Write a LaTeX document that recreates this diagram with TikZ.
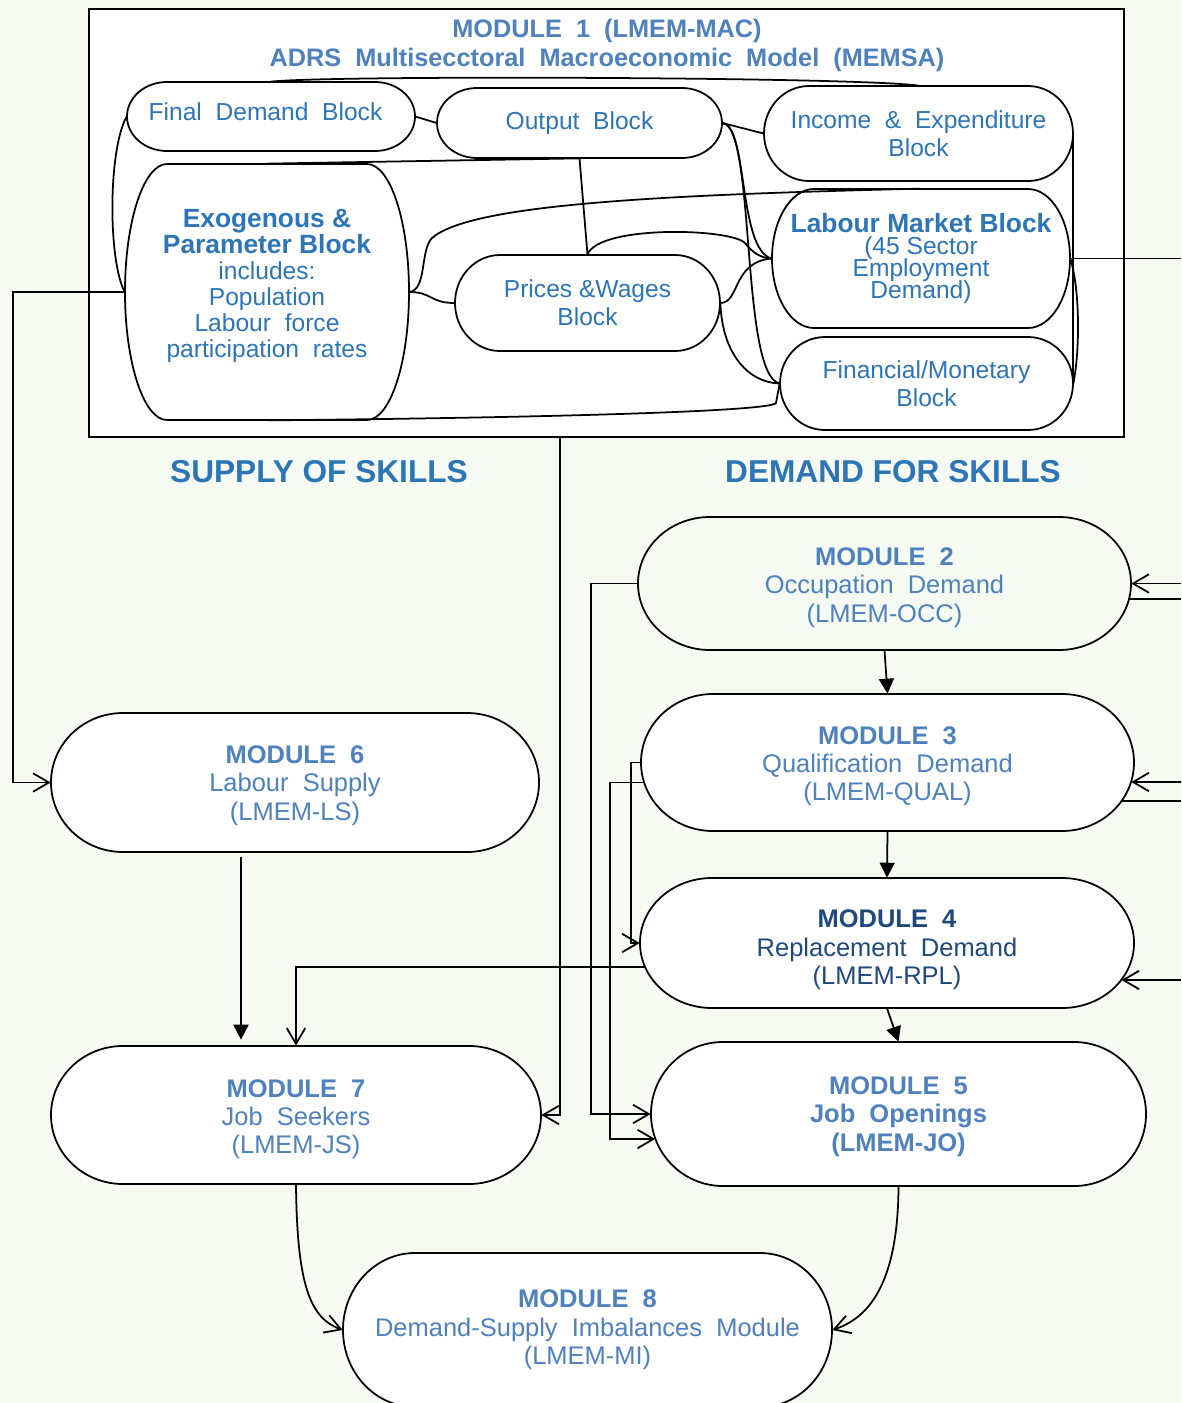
\documentclass[tikz,border=0pt]{standalone}
\usepackage{fontspec}
\setmainfont{Liberation Sans}
\usetikzlibrary{arrows.meta,calc}

\definecolor{paper}{RGB}{245,250,242}
\definecolor{modblue}{RGB}{79,129,189}
\definecolor{blkblue}{RGB}{46,117,182}
\definecolor{navy}{RGB}{31,73,125}

\pgfdeclarelayer{back}
\pgfsetlayers{back,main}

% lines in the text blocks keep their set spacing, even when tight
\lineskiplimit=-20pt

% invisible strut that lowers a text block by raising its first line
\newcommand\topgap[1]{\rule{0pt}{#1}}

\tikzset{
  shapeline/.style={draw=black, line width=1pt},
  wire/.style={draw=black, line width=1pt},
  openarr/.style={wire, -{Straight Barb[length=9pt,width=10.5pt]}},
  solidarr/.style={wire, -{Triangle[length=8.5pt,width=8.5pt]}},
  blocktext/.style={inner sep=0pt, align=center, text=blkblue, font=\fontsize{14}{15.9}\selectfont},
  modtext/.style={inner sep=0pt, align=center, text=modblue, font=\fontsize{14.5}{16.2}\selectfont},
  heading/.style={inner sep=0pt, text=blkblue, font=\fontsize{18}{20}\selectfont\bfseries},
}

% capsule outline (flat top/bottom, elliptical ends) plus its named node
% #1 name, #2 cx, #3 cy, #4 width, #5 height, #6 end width, #7 fill, #8 node style, #9 text
\newcommand\capsule[9]{%
  \begin{pgfonlayer}{back}
    \path[shapeline, fill=#7] (#2-#4/2+#6,#3-#5/2) -- (#2+#4/2-#6,#3-#5/2)
      arc[start angle=-90, end angle=90, x radius=#6, y radius=#5/2]
      -- (#2-#4/2+#6,#3+#5/2)
      arc[start angle=90, end angle=270, x radius=#6, y radius=#5/2] -- cycle;
  \end{pgfonlayer}
  \node[#8, minimum width=#4*0.02cm, minimum height=#5*0.02cm] (#1) at (#2,#3) {#9};
}

\begin{document}
\begin{tikzpicture}[x=0.02cm, y=-0.02cm]
\begin{pgfonlayer}{back}
  \fill[paper] (0,0) rectangle (1181,1403);
  \node[shapeline, fill=white, inner sep=0pt, minimum width=1035*0.02cm, minimum height=428*0.02cm] (m1) at (606.5,223) {};
\end{pgfonlayer}
\useasboundingbox (0,0) rectangle (1181,1403);

% ---- Module 1: macroeconomic model ----
\node[inner sep=0pt, align=center, text=modblue, font=\fontsize{14.4}{16.4}\selectfont\bfseries] (title) at (607,45.5)
  {MODULE~~1~~(LMEM-MAC)\\ADRS~~Multisecctoral~~Macroeconomic~~Model~~(MEMSA)};

\capsule{fd}{271}{116.5}{288}{69}{40}{white}{blocktext, text depth=6pt}{Final~~Demand~~Block\hspace*{0.22cm}}
\capsule{out}{579.5}{123}{285}{70}{40}{white}{blocktext, text depth=3pt}{Output~~Block}
\capsule{ie}{918.5}{133.5}{309}{95}{45}{white}{blocktext}{Income~~\&~~Expenditure\\Block}
\capsule{exo}{267}{292}{284}{256}{42}{white}{blocktext, text depth=10pt, font=\fontsize{14}{14.8}\selectfont}
  {{\fontsize{15}{14.8}\selectfont\bfseries Exogenous \&}\\{\fontsize{15}{14.8}\selectfont\bfseries Parameter Block}\\includes:\\Population\\Labour~~force\\participation~~rates}
\capsule{pw}{587.5}{303}{265}{96}{45}{white}{blocktext}{Prices~\&Wages\\Block}
\capsule{lm}{921}{258.5}{298}{139}{42}{white}{blocktext, font=\fontsize{14}{12.7}\selectfont}
  {{\fontsize{15}{12.7}\selectfont\bfseries Labour Market Block}\\(45 Sector\\Employment\\Demand)}
\capsule{fin}{926.5}{383.5}{293}{93}{45}{white}{blocktext}{Financial/Monetary\\Block}

% ---- headings ----
\node[heading] (supply) at (319,472) {SUPPLY OF SKILLS};
\node[heading] (demand) at (893,472) {DEMAND FOR SKILLS};

% ---- Modules 2 to 8 ----
\capsule{m2}{884.5}{583.5}{493}{133}{72}{paper}{modtext}{\topgap{14.9pt}\textbf{MODULE~~2}\\Occupation~~Demand\\(LMEM-OCC)}
\capsule{m3}{887.5}{762.5}{493}{137}{72}{white}{modtext}{\topgap{14.4pt}\textbf{MODULE~~3}\\Qualification~~Demand\\(LMEM-QUAL)}
\capsule{m4}{887}{943}{494}{130}{72}{white}{modtext, text=navy}{\topgap{18.2pt}\textbf{MODULE~~4}\\Replacement~~Demand\\(LMEM-RPL)}
\capsule{m5}{898.5}{1114}{495}{144}{72}{white}{modtext}{\topgap{12.8pt}\textbf{MODULE~~5}\\\textbf{Job~~Openings}\\\textbf{(LMEM-JO)}}
\capsule{m6}{295}{782.5}{488}{139}{72}{white}{modtext}{\topgap{13.8pt}\textbf{MODULE~~6}\\Labour~~Supply\\(LMEM-LS)}
\capsule{m7}{296}{1115}{490}{138}{72}{white}{modtext}{\topgap{14.9pt}\textbf{MODULE~~7}\\Job~~Seekers\\(LMEM-JS)}
\capsule{m8}{587.5}{1330}{489}{154}{72}{white}{modtext}{\textbf{MODULE~~8}\\Demand-Supply~~Imbalances~~Module\\(LMEM-MI)}

% ---- links between the blocks of module 1 ----
\draw[wire] (fd.north) .. controls (330,75) and (860,77) .. (ie.north);
\draw[wire] (fd.east) -- (out.west);
\draw[wire] (out.east) -- (ie.west);
\draw[wire] (fd.west) .. controls (108,150) and (108,260) .. (exo.west);
\draw[wire] (exo.north) -- (out.south);
\draw[wire] (out.south) -- (pw.north);
\draw[wire] (exo.east) .. controls (427,290) and (420,250) .. (432,238)
            .. controls (470,205) and (650,195) .. (lm.north);
\draw[wire] (exo.east) .. controls (432,292) and (430,303) .. (pw.west);
\draw[wire] (pw.north) .. controls (598,225) and (730,228) .. (745,243)
            .. controls (752,252) and (760,258) .. (lm.west);
\draw[wire] (pw.east) .. controls (740,303) and (732,262) .. (lm.west);
\draw[wire] (pw.east) .. controls (722,350) and (745,382) .. (fin.west);
\draw[wire] (out.east) .. controls (748,125) and (738,250) .. (lm.west);
\draw[wire] (out.east) .. controls (756,125) and (740,375) .. (fin.west);
\draw[wire] (fin.west) -- (776,403) .. controls (770,412) and (520,418) .. (exo.south);
\draw[wire] (ie.east) -- (fin.east);
\draw[wire] (lm.east) .. controls (1080,290) and (1080,350) .. (fin.east);

% ---- links leaving module 1 ----
\coordinate (lmexit) at (1181,258.5);
\coordinate (m1exit) at (560,437);
\draw[wire] (lm.east) -- (lmexit);
\draw[openarr] (exo.west) -- ++(-112,0) |- (m6.west);
\draw[openarr] (m1exit) |- (m7.east);

% ---- links between the modules ----
\draw[openarr] (m2.west) -- ++(-47,0) |- (m5.west);
\draw[openarr] (m3.west) -- ++(-10,0) |- (m4.west);
\draw[openarr] ($(m3.west)+(3,20)$) -- ++(-34,0) |- ($(m5.west)+(4.5,25)$);
\draw[openarr] ($(m4.west)+(5,24)$) -| (m7.north);
\draw[solidarr] ($(m6.south)+(-54,5)$) -- ($(m7.north)+(-55,-6)$);
\draw[solidarr] (m2.south) -- (m3.north);
\draw[solidarr] (m3.south) -- (m4.north);
\draw[solidarr] (m4.south) -- (m5.north);
\draw[openarr] (m7.south) .. controls (297,1285) and (310,1318) .. (m8.west);
\draw[openarr] (m5.south) .. controls (898,1285) and (868,1318) .. (m8.east);

% ---- feeds along the right edge ----
\coordinate (r2in) at (1181,583.5);
\coordinate (r2out) at (1181,599);
\coordinate (r3in) at (1181,782);
\coordinate (r3out) at (1181,801);
\coordinate (r4in) at (1181,980);
\draw[openarr] (r2in) -- (m2.east);
\draw[wire] ($(m2.east)+(-2,15.5)$) -- (r2out);
\draw[openarr] (r3in) -- ($(m3.east)+(-3,19.5)$);
\draw[wire] ($(m3.east)+(-12.5,38.5)$) -- (r3out);
\draw[openarr] (r4in) -- ($(m4.east)+(-12.8,37)$);
\end{tikzpicture}
\end{document}
